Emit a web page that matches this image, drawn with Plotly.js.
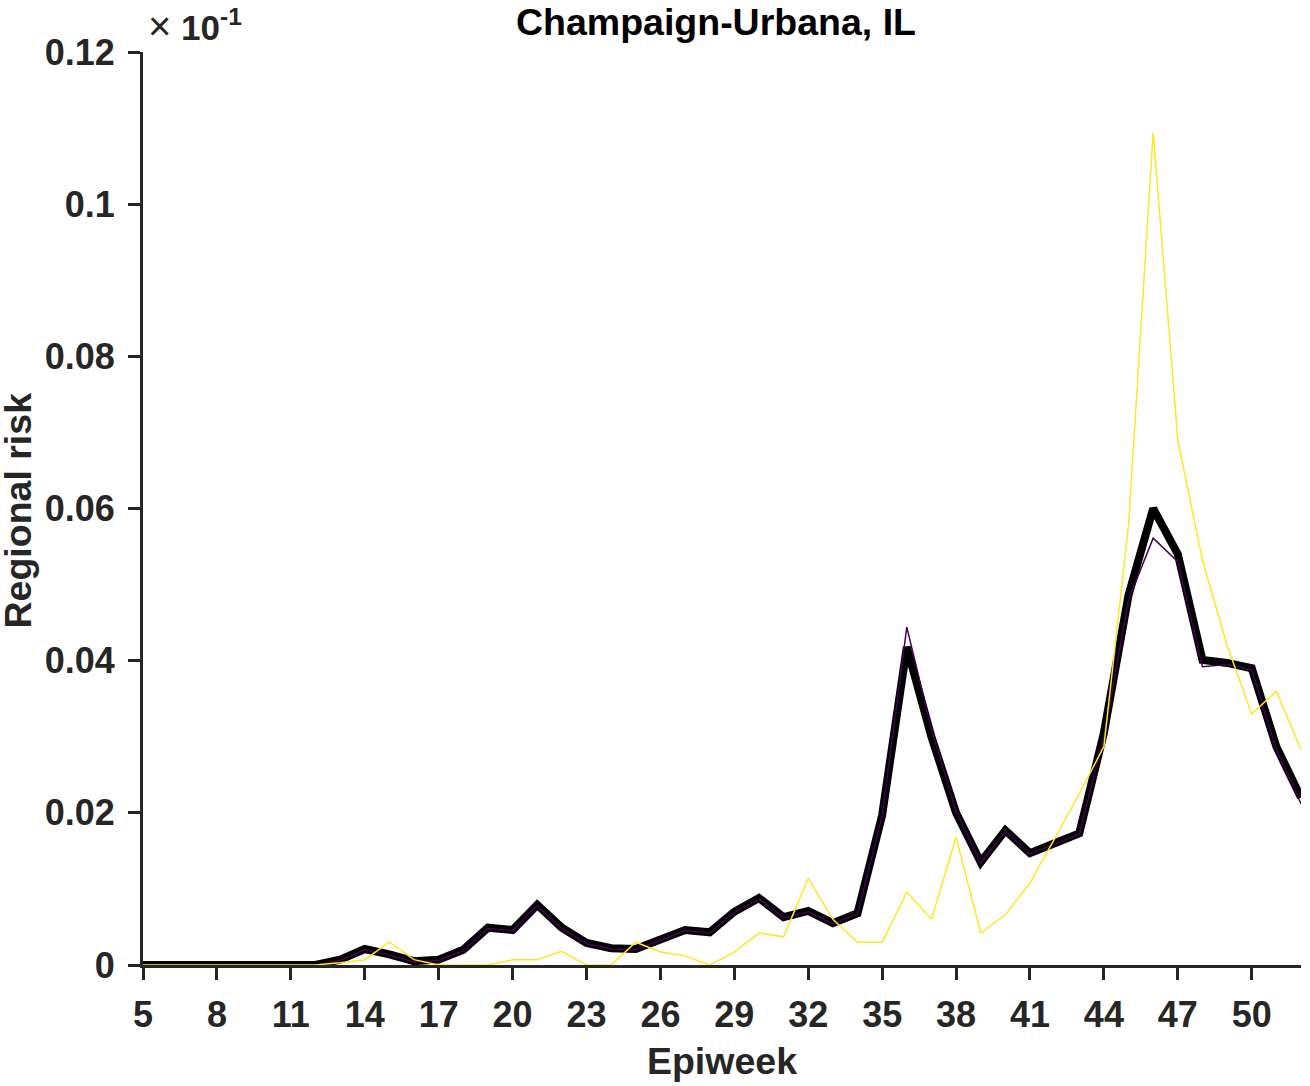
<!DOCTYPE html>
<html>
<head>
<meta charset="utf-8">
<script src="https://cdn.plot.ly/plotly-3.0.1.min.js"></script>
<style>html,body{margin:0;padding:0;background:#fff;}#chart{width:1310px;height:1086px;}</style>
</head>
<body>
<div id="chart"></div>
<script>
// Epiweeks 5..52
const weeks = [5,6,7,8,9,10,11,12,13,14,15,16,17,18,19,20,21,22,23,24,25,26,27,28,29,30,31,32,33,34,35,36,37,38,39,40,41,42,43,44,45,46,47,48,49,50,51,52];

// Thick black line (mean regional risk)
const meanRisk = [0,0,0,0,0,0,0,0,0.0007,0.0021,0.0014,0.0005,0.0007,0.0020,0.0049,0.0046,0.0079,0.0049,0.0029,0.0022,0.0021,0.0034,0.0046,0.0043,0.0070,0.0088,0.0063,0.0071,0.0055,0.0068,0.0197,0.0418,0.0300,0.0200,0.0135,0.0177,0.0147,0.0160,0.0173,0.0305,0.0486,0.0600,0.0540,0.0401,0.0397,0.0390,0.0287,0.0220];

// Thin dark purple line
const purpleRisk = [0,0,0,0,0,0,0,0,0.0006,0.0020,0.0013,0.0004,0.0006,0.0019,0.0048,0.0045,0.0078,0.0048,0.0028,0.0021,0.0020,0.0033,0.0045,0.0042,0.0069,0.0087,0.0062,0.0070,0.0054,0.0067,0.0196,0.0444,0.0310,0.0202,0.0134,0.0176,0.0146,0.0159,0.0172,0.0300,0.0480,0.0561,0.0530,0.0392,0.0395,0.0388,0.0283,0.0212];

// Thin yellow line
const yellowRisk = [0,0,0,0,0,0,0,0,0.0003,0.0007,0.0030,0.0007,0,0,0,0.0007,0.0007,0.0018,0,0,0.0030,0.0017,0.0012,0,0.0017,0.0042,0.0037,0.0114,0.0060,0.0030,0.0030,0.0096,0.0060,0.0168,0.0042,0.0066,0.0108,0.0166,0.0225,0.0287,0.0578,0.1094,0.0690,0.0532,0.0420,0.0330,0.0360,0.0283];

const yTickVals = [0,0.02,0.04,0.06,0.08,0.1,0.12];
const yTickText = ['0','0.02','0.04','0.06','0.08','0.1','0.12'];
const xTickVals = [5,8,11,14,17,20,23,26,29,32,35,38,41,44,47,50];
const xTickText = ['5','8','11','14','17','20','23','26','29','32','35','38','41','44','47','50'];

const fam = 'Liberation Sans, Arial, sans-serif';
const axisColor = '#262626';

const traces = [
  {x: weeks, y: meanRisk, mode: 'lines', line: {color: '#000000', width: 8}, name: 'mean'},
  {x: weeks, y: purpleRisk, mode: 'lines', line: {color: '#440154', width: 1.5}, name: 'purple'},
  {x: weeks, y: yellowRisk, mode: 'lines', line: {color: '#FDE725', width: 1.5}, name: 'yellow'}
];

const layout = {
  width: 1310, height: 1086,
  paper_bgcolor: '#ffffff', plot_bgcolor: '#ffffff',
  showlegend: false,
  margin: {l: 143, r: 9, t: 52, b: 121, pad: 0},
  title: {
    text: '<b>Champaign-Urbana, IL</b>',
    font: {family: fam, size: 37.5, color: '#000000'},
    x: 0.4948, xref: 'paper', xanchor: 'center',
    y: 1, yref: 'paper', yanchor: 'bottom',
    pad: {b: 17}
  },
  xaxis: {
    range: [5, 52],
    tickmode: 'array', tickvals: xTickVals, ticktext: xTickText,
    ticks: 'outside', ticklen: 12, tickwidth: 3, tickcolor: axisColor,
    showline: true, linewidth: 3, linecolor: axisColor,
    showgrid: false, zeroline: false,
    tickfont: {family: fam, size: 36, color: axisColor, weight: 'bold'},
    ticklabelstandoff: 4,
    title: {text: '<b>Epiweek</b>', font: {family: fam, size: 37.5, color: axisColor}, standoff: 14}
  },
  yaxis: {
    range: [0, 0.12],
    tickmode: 'array', tickvals: yTickVals, ticktext: yTickText,
    ticks: 'outside', ticklen: 12, tickwidth: 3, tickcolor: axisColor,
    showline: true, linewidth: 3, linecolor: axisColor,
    showgrid: false, zeroline: false,
    tickfont: {family: fam, size: 36, color: axisColor, weight: 'bold'},
    ticklabelstandoff: 6
  },
  annotations: [{
    xref: 'paper', yref: 'paper', x: 0, y: 1, xanchor: 'left', yanchor: 'bottom',
    xshift: 3, yshift: 2,
    showarrow: false,
    text: '<span style="font-size:40px">×</span> <b>10<sup>-1</sup></b>',
    font: {family: fam, size: 35, color: axisColor}
  }, {
    xref: 'paper', yref: 'paper', x: 0, y: 0.5, xanchor: 'center', yanchor: 'middle',
    xshift: -126, yshift: -2,
    showarrow: false, textangle: -90,
    text: '<b>Regional risk</b>',
    font: {family: fam, size: 37.5, color: axisColor}
  }]
};

Plotly.newPlot('chart', traces, layout, {staticPlot: true, displayModeBar: false});
</script>
</body>
</html>
